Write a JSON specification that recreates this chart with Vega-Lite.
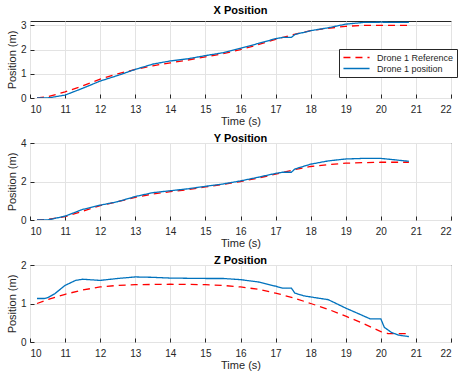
{
  "$schema": "https://vega.github.io/schema/vega-lite/v6.json",
  "padding": {"left": 5, "top": 4, "right": 0, "bottom": 0},
  "spacing": 5,
  "config": {
    "font": "Liberation Sans",
    "view": {"stroke": "#262626", "strokeWidth": 1},
    "axis": {
      "labelFont": "Liberation Sans", "titleFont": "Liberation Sans",
      "labelFontSize": 10, "titleFontSize": 11, "labelColor": "#262626", "titleColor": "#262626",
      "titleFontWeight": "normal", "gridColor": "#e3e3e3", "gridOpacity": 1, "domain": false,
      "tickColor": "#262626", "tickSize": -4, "labelPadding": 10, "titlePadding": 1, "format": "d"
    },
    "axisY": {"labelPadding": 8, "titlePadding": 3},
    "title": {"fontSize": 11, "fontWeight": "bold", "color": "#000000", "offset": 0, "font": "Liberation Sans"}
  },
  "datasets": {
    "d": [
      {"p":"X","s":"Drone 1 Reference","t":10.2,"v":0},
      {"p":"X","s":"Drone 1 Reference","t":10.5,"v":0.05},
      {"p":"X","s":"Drone 1 Reference","t":11,"v":0.25},
      {"p":"X","s":"Drone 1 Reference","t":11.5,"v":0.5},
      {"p":"X","s":"Drone 1 Reference","t":12,"v":0.78},
      {"p":"X","s":"Drone 1 Reference","t":12.5,"v":1.0},
      {"p":"X","s":"Drone 1 Reference","t":13,"v":1.18},
      {"p":"X","s":"Drone 1 Reference","t":13.5,"v":1.33},
      {"p":"X","s":"Drone 1 Reference","t":14,"v":1.45},
      {"p":"X","s":"Drone 1 Reference","t":14.5,"v":1.57},
      {"p":"X","s":"Drone 1 Reference","t":15,"v":1.7},
      {"p":"X","s":"Drone 1 Reference","t":15.5,"v":1.83},
      {"p":"X","s":"Drone 1 Reference","t":16,"v":2.0},
      {"p":"X","s":"Drone 1 Reference","t":16.5,"v":2.2},
      {"p":"X","s":"Drone 1 Reference","t":17,"v":2.42},
      {"p":"X","s":"Drone 1 Reference","t":17.5,"v":2.62},
      {"p":"X","s":"Drone 1 Reference","t":18,"v":2.78},
      {"p":"X","s":"Drone 1 Reference","t":18.5,"v":2.88},
      {"p":"X","s":"Drone 1 Reference","t":19,"v":2.96},
      {"p":"X","s":"Drone 1 Reference","t":19.5,"v":3.0},
      {"p":"X","s":"Drone 1 Reference","t":20,"v":3.0},
      {"p":"X","s":"Drone 1 Reference","t":20.8,"v":3.0},
      {"p":"X","s":"Drone 1 position","t":10.2,"v":0},
      {"p":"X","s":"Drone 1 position","t":10.5,"v":0},
      {"p":"X","s":"Drone 1 position","t":11,"v":0.12},
      {"p":"X","s":"Drone 1 position","t":11.5,"v":0.4},
      {"p":"X","s":"Drone 1 position","t":12,"v":0.7},
      {"p":"X","s":"Drone 1 position","t":12.5,"v":0.93},
      {"p":"X","s":"Drone 1 position","t":13,"v":1.18},
      {"p":"X","s":"Drone 1 position","t":13.5,"v":1.4},
      {"p":"X","s":"Drone 1 position","t":14,"v":1.53},
      {"p":"X","s":"Drone 1 position","t":14.5,"v":1.62},
      {"p":"X","s":"Drone 1 position","t":15,"v":1.75},
      {"p":"X","s":"Drone 1 position","t":15.5,"v":1.87},
      {"p":"X","s":"Drone 1 position","t":16,"v":2.05},
      {"p":"X","s":"Drone 1 position","t":16.5,"v":2.25},
      {"p":"X","s":"Drone 1 position","t":17,"v":2.45},
      {"p":"X","s":"Drone 1 position","t":17.2,"v":2.5},
      {"p":"X","s":"Drone 1 position","t":17.45,"v":2.5},
      {"p":"X","s":"Drone 1 position","t":17.55,"v":2.62},
      {"p":"X","s":"Drone 1 position","t":18,"v":2.78},
      {"p":"X","s":"Drone 1 position","t":18.5,"v":2.9},
      {"p":"X","s":"Drone 1 position","t":19,"v":3.05},
      {"p":"X","s":"Drone 1 position","t":19.5,"v":3.12},
      {"p":"X","s":"Drone 1 position","t":20,"v":3.13},
      {"p":"X","s":"Drone 1 position","t":20.8,"v":3.12},
      {"p":"Y","s":"Drone 1 Reference","t":10.2,"v":0},
      {"p":"Y","s":"Drone 1 Reference","t":10.5,"v":0.03},
      {"p":"Y","s":"Drone 1 Reference","t":11,"v":0.17},
      {"p":"Y","s":"Drone 1 Reference","t":11.5,"v":0.45},
      {"p":"Y","s":"Drone 1 Reference","t":12,"v":0.75},
      {"p":"Y","s":"Drone 1 Reference","t":12.5,"v":0.95},
      {"p":"Y","s":"Drone 1 Reference","t":13,"v":1.18},
      {"p":"Y","s":"Drone 1 Reference","t":13.5,"v":1.35},
      {"p":"Y","s":"Drone 1 Reference","t":14,"v":1.47},
      {"p":"Y","s":"Drone 1 Reference","t":14.5,"v":1.58},
      {"p":"Y","s":"Drone 1 Reference","t":15,"v":1.72},
      {"p":"Y","s":"Drone 1 Reference","t":15.5,"v":1.85},
      {"p":"Y","s":"Drone 1 Reference","t":16,"v":2.0},
      {"p":"Y","s":"Drone 1 Reference","t":16.5,"v":2.18},
      {"p":"Y","s":"Drone 1 Reference","t":17,"v":2.38},
      {"p":"Y","s":"Drone 1 Reference","t":17.5,"v":2.6},
      {"p":"Y","s":"Drone 1 Reference","t":18,"v":2.78},
      {"p":"Y","s":"Drone 1 Reference","t":18.5,"v":2.88},
      {"p":"Y","s":"Drone 1 Reference","t":19,"v":2.95},
      {"p":"Y","s":"Drone 1 Reference","t":19.5,"v":2.98},
      {"p":"Y","s":"Drone 1 Reference","t":20,"v":3.0},
      {"p":"Y","s":"Drone 1 Reference","t":20.8,"v":3.0},
      {"p":"Y","s":"Drone 1 position","t":10.2,"v":0},
      {"p":"Y","s":"Drone 1 position","t":10.5,"v":0},
      {"p":"Y","s":"Drone 1 position","t":11,"v":0.2},
      {"p":"Y","s":"Drone 1 position","t":11.5,"v":0.55},
      {"p":"Y","s":"Drone 1 position","t":12,"v":0.77},
      {"p":"Y","s":"Drone 1 position","t":12.5,"v":0.95},
      {"p":"Y","s":"Drone 1 position","t":13,"v":1.22},
      {"p":"Y","s":"Drone 1 position","t":13.5,"v":1.42},
      {"p":"Y","s":"Drone 1 position","t":14,"v":1.52},
      {"p":"Y","s":"Drone 1 position","t":14.5,"v":1.62},
      {"p":"Y","s":"Drone 1 position","t":15,"v":1.75},
      {"p":"Y","s":"Drone 1 position","t":15.5,"v":1.87},
      {"p":"Y","s":"Drone 1 position","t":16,"v":2.03},
      {"p":"Y","s":"Drone 1 position","t":16.5,"v":2.22},
      {"p":"Y","s":"Drone 1 position","t":17,"v":2.42},
      {"p":"Y","s":"Drone 1 position","t":17.2,"v":2.48},
      {"p":"Y","s":"Drone 1 position","t":17.45,"v":2.48},
      {"p":"Y","s":"Drone 1 position","t":17.55,"v":2.65},
      {"p":"Y","s":"Drone 1 position","t":18,"v":2.9},
      {"p":"Y","s":"Drone 1 position","t":18.5,"v":3.07},
      {"p":"Y","s":"Drone 1 position","t":19,"v":3.17},
      {"p":"Y","s":"Drone 1 position","t":19.5,"v":3.2},
      {"p":"Y","s":"Drone 1 position","t":20,"v":3.2},
      {"p":"Y","s":"Drone 1 position","t":20.8,"v":3.05},
      {"p":"Z","s":"Drone 1 Reference","t":10.2,"v":1.0},
      {"p":"Z","s":"Drone 1 Reference","t":10.5,"v":1.1},
      {"p":"Z","s":"Drone 1 Reference","t":11,"v":1.24},
      {"p":"Z","s":"Drone 1 Reference","t":11.5,"v":1.35},
      {"p":"Z","s":"Drone 1 Reference","t":12,"v":1.43},
      {"p":"Z","s":"Drone 1 Reference","t":12.5,"v":1.47},
      {"p":"Z","s":"Drone 1 Reference","t":13,"v":1.49},
      {"p":"Z","s":"Drone 1 Reference","t":14,"v":1.5},
      {"p":"Z","s":"Drone 1 Reference","t":15,"v":1.49},
      {"p":"Z","s":"Drone 1 Reference","t":15.5,"v":1.47},
      {"p":"Z","s":"Drone 1 Reference","t":16,"v":1.43},
      {"p":"Z","s":"Drone 1 Reference","t":16.5,"v":1.37},
      {"p":"Z","s":"Drone 1 Reference","t":17,"v":1.27},
      {"p":"Z","s":"Drone 1 Reference","t":17.5,"v":1.15},
      {"p":"Z","s":"Drone 1 Reference","t":18,"v":1.0},
      {"p":"Z","s":"Drone 1 Reference","t":18.5,"v":0.85},
      {"p":"Z","s":"Drone 1 Reference","t":19,"v":0.67},
      {"p":"Z","s":"Drone 1 Reference","t":19.5,"v":0.48},
      {"p":"Z","s":"Drone 1 Reference","t":20,"v":0.27},
      {"p":"Z","s":"Drone 1 Reference","t":20.2,"v":0.22},
      {"p":"Z","s":"Drone 1 Reference","t":20.8,"v":0.22},
      {"p":"Z","s":"Drone 1 position","t":10.2,"v":1.13},
      {"p":"Z","s":"Drone 1 position","t":10.4,"v":1.13},
      {"p":"Z","s":"Drone 1 position","t":10.5,"v":1.15},
      {"p":"Z","s":"Drone 1 position","t":10.7,"v":1.25},
      {"p":"Z","s":"Drone 1 position","t":11,"v":1.47},
      {"p":"Z","s":"Drone 1 position","t":11.3,"v":1.6},
      {"p":"Z","s":"Drone 1 position","t":11.5,"v":1.63},
      {"p":"Z","s":"Drone 1 position","t":12,"v":1.6},
      {"p":"Z","s":"Drone 1 position","t":12.5,"v":1.65},
      {"p":"Z","s":"Drone 1 position","t":13,"v":1.69},
      {"p":"Z","s":"Drone 1 position","t":13.5,"v":1.68},
      {"p":"Z","s":"Drone 1 position","t":14,"v":1.66},
      {"p":"Z","s":"Drone 1 position","t":15,"v":1.65},
      {"p":"Z","s":"Drone 1 position","t":15.5,"v":1.65},
      {"p":"Z","s":"Drone 1 position","t":16,"v":1.62},
      {"p":"Z","s":"Drone 1 position","t":16.5,"v":1.56},
      {"p":"Z","s":"Drone 1 position","t":17,"v":1.45},
      {"p":"Z","s":"Drone 1 position","t":17.2,"v":1.4},
      {"p":"Z","s":"Drone 1 position","t":17.45,"v":1.4},
      {"p":"Z","s":"Drone 1 position","t":17.55,"v":1.27},
      {"p":"Z","s":"Drone 1 position","t":17.8,"v":1.2},
      {"p":"Z","s":"Drone 1 position","t":18,"v":1.17},
      {"p":"Z","s":"Drone 1 position","t":18.5,"v":1.1},
      {"p":"Z","s":"Drone 1 position","t":19,"v":0.88},
      {"p":"Z","s":"Drone 1 position","t":19.5,"v":0.68},
      {"p":"Z","s":"Drone 1 position","t":19.7,"v":0.6},
      {"p":"Z","s":"Drone 1 position","t":20,"v":0.6},
      {"p":"Z","s":"Drone 1 position","t":20.1,"v":0.38},
      {"p":"Z","s":"Drone 1 position","t":20.3,"v":0.25},
      {"p":"Z","s":"Drone 1 position","t":20.5,"v":0.18},
      {"p":"Z","s":"Drone 1 position","t":20.8,"v":0.14}
    ]
  },
  "resolve": {"legend": {"color": "independent", "strokeDash": "independent"}, "scale": {"y": "independent"}},
  "vconcat": [
    {
      "title": "X Position",
      "width": 421, "height": 77,
      "data": {"name": "d"},
      "transform": [{"filter": "datum.p === 'X'"}],
      "mark": {"type": "line", "strokeWidth": 1.3, "clip": true},
      "encoding": {
        "x": {"field": "t", "type": "quantitative", "scale": {"domain": [10, 22]}, "axis": {"values": [10,11,12,13,14,15,16,17,18,19,20,21,22], "title": "Time (s)"}},
        "y": {"field": "v", "type": "quantitative", "scale": {"domain": [0, 3.18], "nice": false}, "axis": {"values": [0,1,2,3], "title": "Position (m)"}},
        "color": {"field": "s", "type": "nominal", "scale": {"domain": ["Drone 1 Reference", "Drone 1 position"], "range": ["#FF0000", "#0072BD"]},
          "legend": {"title": null, "orient": "none", "legendX": 309, "legendY": 28, "strokeColor": "#262626", "fillColor": "#ffffff", "padding": 3, "symbolType": "M-2.9,0H2.9", "symbolSize": 81, "symbolOffset": 9, "symbolStrokeWidth": 1.5, "labelFontSize": 9, "labelColor": "#262626", "labelFont": "Liberation Sans", "rowPadding": 0, "labelOffset": 15}},
        "strokeDash": {"field": "s", "type": "nominal", "scale": {"domain": ["Drone 1 Reference", "Drone 1 position"], "range": [[7, 5], [1, 0]]}, "legend": {"title": null}}
      }
    },
    {
      "title": {"text": "Y Position", "offset": -6},
      "width": 421, "height": 77,
      "data": {"name": "d"},
      "transform": [{"filter": "datum.p === 'Y'"}],
      "mark": {"type": "line", "strokeWidth": 1.3, "clip": true},
      "encoding": {
        "x": {"field": "t", "type": "quantitative", "scale": {"domain": [10, 22]}, "axis": {"values": [10,11,12,13,14,15,16,17,18,19,20,21,22], "title": "Time (s)"}},
        "y": {"field": "v", "type": "quantitative", "scale": {"domain": [0, 4], "nice": false}, "axis": {"values": [0,2,4], "title": "Position (m)"}},
        "color": {"field": "s", "type": "nominal", "scale": {"domain": ["Drone 1 Reference", "Drone 1 position"], "range": ["#FF0000", "#0072BD"]}, "legend": null},
        "strokeDash": {"field": "s", "type": "nominal", "scale": {"domain": ["Drone 1 Reference", "Drone 1 position"], "range": [[7, 5], [1, 0]]}, "legend": null}
      }
    },
    {
      "title": {"text": "Z Position", "offset": -6},
      "width": 421, "height": 77,
      "data": {"name": "d"},
      "transform": [{"filter": "datum.p === 'Z'"}],
      "mark": {"type": "line", "strokeWidth": 1.3, "clip": true},
      "encoding": {
        "x": {"field": "t", "type": "quantitative", "scale": {"domain": [10, 22]}, "axis": {"values": [10,11,12,13,14,15,16,17,18,19,20,21,22], "title": "Time (s)"}},
        "y": {"field": "v", "type": "quantitative", "scale": {"domain": [0, 2], "nice": false}, "axis": {"values": [0,1,2], "title": "Position (m)"}},
        "color": {"field": "s", "type": "nominal", "scale": {"domain": ["Drone 1 Reference", "Drone 1 position"], "range": ["#FF0000", "#0072BD"]}, "legend": null},
        "strokeDash": {"field": "s", "type": "nominal", "scale": {"domain": ["Drone 1 Reference", "Drone 1 position"], "range": [[7, 5], [1, 0]]}, "legend": null}
      }
    }
  ]
}
